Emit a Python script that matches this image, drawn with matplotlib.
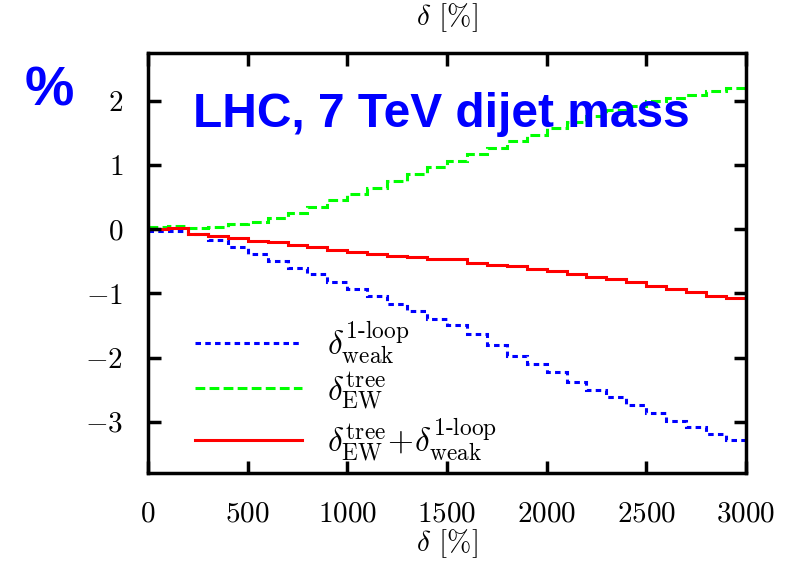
import numpy as np
import matplotlib
matplotlib.use("Agg")
import matplotlib.pyplot as plt

plt.rcParams['font.family'] = 'serif'
plt.rcParams['font.serif'] = ['cmr10', 'DejaVu Serif']
plt.rcParams['mathtext.fontset'] = 'cm'
plt.rcParams['axes.formatter.use_mathtext'] = True

# bin edges (dijet mass axis, labelled delta [%])
edges = np.arange(0, 3001, 100)

ew_tree = [0.03, 0.05, 0.02, 0.04, 0.08, 0.12, 0.18, 0.26, 0.35, 0.45,
           0.55, 0.65, 0.75, 0.86, 0.97, 1.07, 1.17, 1.27, 1.37, 1.47,
           1.58, 1.68, 1.77, 1.86, 1.93, 2.00, 2.05, 2.10, 2.15, 2.20]
weak_1loop = [-0.02, -0.02, -0.08, -0.17, -0.27, -0.38, -0.49, -0.60, -0.70, -0.82,
              -0.93, -1.04, -1.16, -1.28, -1.40, -1.50, -1.63, -1.80, -1.97, -2.10,
              -2.22, -2.38, -2.50, -2.62, -2.74, -2.87, -2.99, -3.09, -3.20, -3.28]
combined = [0.00, 0.02, -0.07, -0.11, -0.14, -0.18, -0.20, -0.24, -0.28, -0.32,
            -0.35, -0.38, -0.41, -0.44, -0.47, -0.47, -0.52, -0.55, -0.58, -0.62,
            -0.65, -0.70, -0.74, -0.78, -0.83, -0.88, -0.93, -0.98, -1.04, -1.07]

xticks = [0, 500, 1000, 1500, 2000, 2500, 3000]
yticks = [-3, -2, -1, 0, 1, 2]

fig = plt.figure(figsize=(8.09, 5.63), dpi=100)
ax = fig.add_axes([0.183, 0.160, 0.739, 0.746])

ax.stairs(weak_1loop, edges, color='#0000ff', lw=2.2, linestyle=(0, (1.8, 1.4)),
          baseline=None, label=r'$\delta^{\text{1-loop}}_{\text{weak}}$')
ax.stairs(ew_tree, edges, color='#00ff00', lw=2.2, linestyle=(0, (3.2, 1.4)),
          baseline=None, label=r'$\delta^{\text{tree}}_{\text{EW}}$')
ax.stairs(combined, edges, color='#ff0000', lw=2.2, linestyle='-',
          baseline=None, label=r'$\delta^{\text{tree}}_{\text{EW}}\!+\!\delta^{\text{1-loop}}_{\text{weak}}$')

ax.set_xlim(0, 3000)
ax.set_ylim(-3.8, 2.75)
ax.set_xticks(xticks)
ax.set_yticks(yticks)
ax.tick_params(direction='in', length=9, width=2.5, top=True, right=True,
               labelsize=21)
ax.tick_params(axis='x', pad=20)
ax.tick_params(axis='y', pad=18)
for sp in ax.spines.values():
    sp.set_linewidth(2.5)

leg = ax.legend(loc='center left', bbox_to_anchor=(0.079, 0.195), frameon=False,
                fontsize=24, handlelength=3.2, handletextpad=0.75,
                labelspacing=0.12, borderpad=0, borderaxespad=0)

ax.text(0.075, 0.824, 'LHC, 7 TeV dijet mass', transform=ax.transAxes,
        fontsize=34.5, fontweight='bold', color='#0000ff', family='Liberation Sans',
        va='baseline')
fig.text(25 / 809, 1 - 105 / 563, '%', fontsize=40, fontweight='bold', color='#0000ff',
         family='Liberation Sans', va='baseline')

fig.text(447 / 809, 1 - 18 / 563, r'$\delta$ [%]', fontsize=21, ha='center', va='center')
fig.text(447 / 809, 1 - 544 / 563, r'$\delta$ [%]', fontsize=21, ha='center', va='center')

fig.savefig('out.png', dpi=100)
